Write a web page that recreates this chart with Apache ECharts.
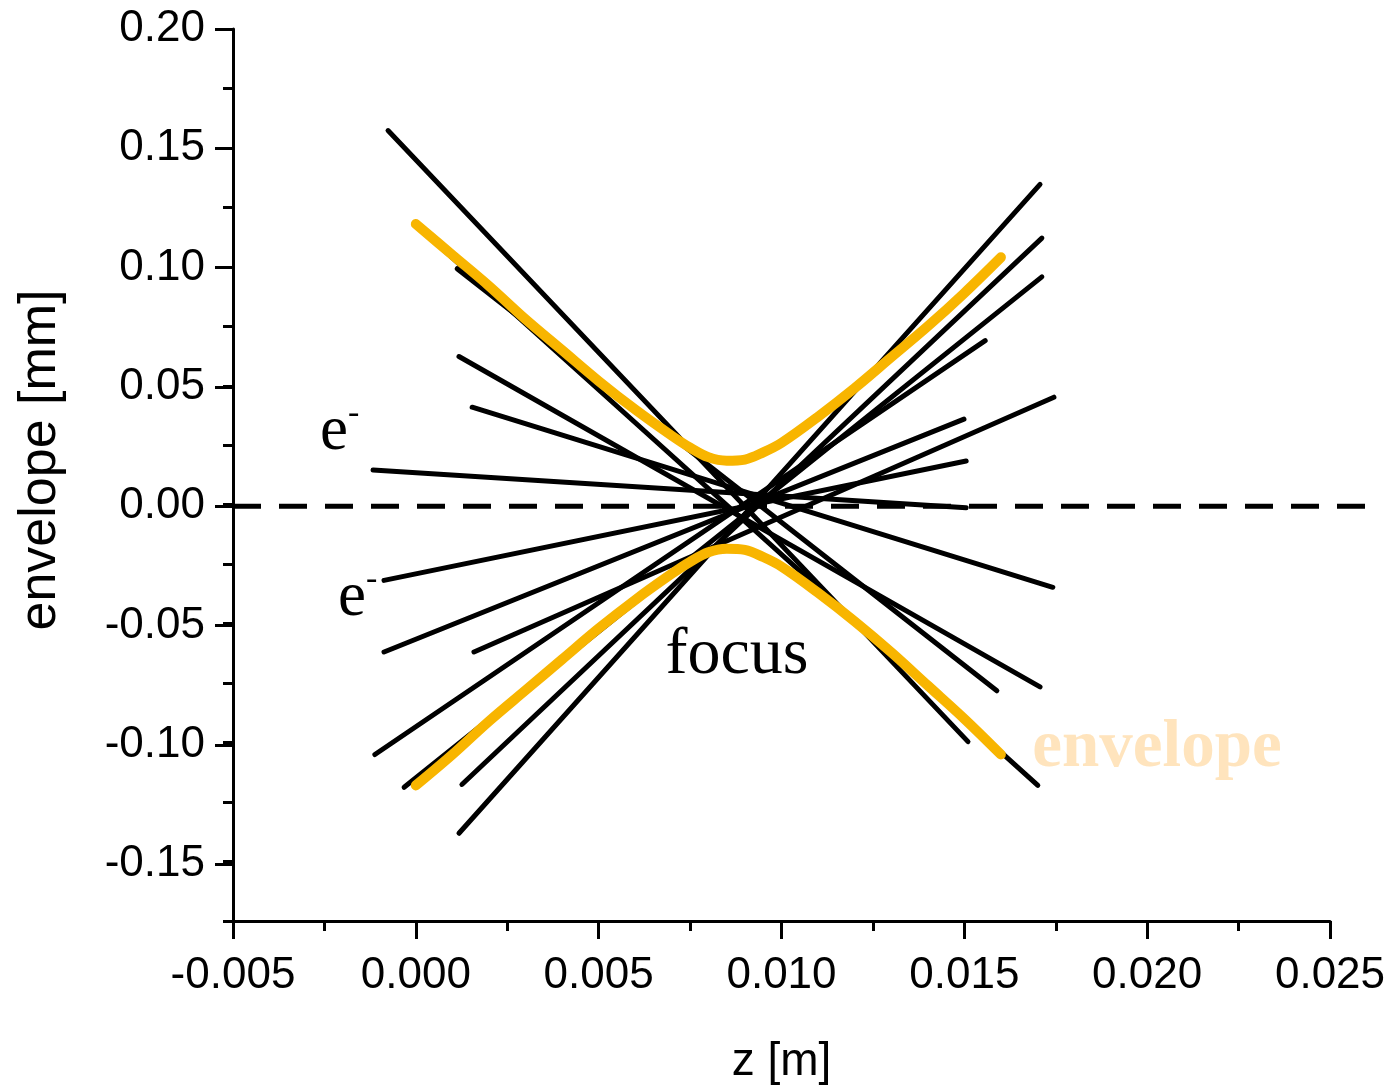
<!DOCTYPE html>
<html>
<head>
<meta charset="utf-8">
<title>Electron envelope near focus</title>
<script src="https://cdn.jsdelivr.net/npm/echarts@6/dist/echarts.min.js"></script>
<style>
  html, body { margin: 0; padding: 0; background: #ffffff; }
  #chart { width: 1398px; height: 1090px; }
</style>
</head>
<body>
<div id="chart"></div>
<script>
// Individual electron trajectories: start point (z0, y0) and end point (z1, y1)
const rayZ0 = [-0.00076, 0.00000, 0.00113, 0.00118, 0.00154, -0.00117,
               -0.00087, -0.00087, 0.00159, -0.00112, -0.00032, 0.00126, 0.00118];
const rayY0 = [0.1573, 0.1176, 0.0992, 0.0623, 0.0410, 0.0146,
               -0.0318, -0.0619, -0.0619, -0.1050, -0.1188, -0.1176, -0.1381];
const rayZ1 = [0.01510, 0.01701, 0.01589, 0.01707, 0.01742, 0.01505,
               0.01505, 0.01499, 0.01745, 0.01557, 0.01712, 0.01712, 0.01707];
const rayY1 = [-0.0996, -0.1180, -0.0782, -0.0766, -0.0347, -0.0013,
               0.0184, 0.0360, 0.0452, 0.0690, 0.0958, 0.1121, 0.1347];

// Beam envelope (upper and lower edge) along z
const envZ = [0, 0.001, 0.002, 0.003, 0.004, 0.005, 0.006, 0.007, 0.0075, 0.008,
              0.0085, 0.009, 0.0095, 0.010, 0.011, 0.012, 0.013, 0.014, 0.015, 0.016];
const envUpper = [0.118, 0.105, 0.092, 0.078, 0.065, 0.052, 0.040, 0.029, 0.024, 0.020,
                  0.0185, 0.019, 0.022, 0.026, 0.037, 0.049, 0.062, 0.075, 0.089, 0.104];
const envLower = [-0.118, -0.105, -0.091, -0.078, -0.065, -0.052, -0.040, -0.029, -0.024, -0.020,
                  -0.0185, -0.019, -0.022, -0.026, -0.037, -0.049, -0.062, -0.076, -0.090, -0.105];

// Beam axis (y = 0), drawn across the full width, past the end of the z axis
const axisLineZ = [-0.005, 0.0263];
const axisLineY = [0, 0];

// Axis ranges and tick labels
const zRange = [-0.005, 0.025];
const yRange = [-0.175, 0.20];
const zTicks = [-0.005, 0.000, 0.005, 0.010, 0.015, 0.020, 0.025];
const yTicks = [-0.15, -0.10, -0.05, 0.00, 0.05, 0.10, 0.15, 0.20];

// Text annotations placed in data coordinates
const notes = [
  { text: '{b|e}{s|-}', z: -0.00262, y: 0.0305, kind: 'e' },
  { text: '{b|e}{s|-}', z: -0.00213, y: -0.0392, kind: 'e' },
  { text: 'focus', z: 0.00878, y: -0.0636, kind: 'focus' },
  { text: 'envelope', z: 0.02027, y: -0.1025, kind: 'env' }
];

const W = 1398, H = 1090;
const gridL = 233, gridT = 29, gridR = W - 1330, gridB = H - 924;
const pxPerY = (H - gridT - gridB) / (yRange[1] - yRange[0]);
const pxPerZ = (W - gridL - gridR) / (zRange[1] - zRange[0]);
// second grid carries the labelled major ticks of the y axis (starting at the first label)
const gridB2 = gridB + (yTicks[0] - yRange[0]) * pxPerY;
// third grid shares the z scale but reaches further right, for the beam axis line
const zWide = axisLineZ[1];
const gridR3 = W - gridL - (zWide - zRange[0]) * pxPerZ;

const SANS = 'Liberation Sans, Arial, sans-serif';
const SERIF = 'Liberation Serif, Times New Roman, serif';
const YELLOW = '#F8B500';

const fmt = (v, d) => (Math.abs(v) < 1e-9 ? 0 : v).toFixed(d);

const series = [];

series.push({
  type: 'line', xAxisIndex: 2, yAxisIndex: 2,
  data: axisLineZ.map((z, i) => [z, axisLineY[i]]),
  symbol: 'none', silent: true, z: 1,
  lineStyle: { color: '#000', width: 5, type: [28, 18] }
});

for (let i = 0; i < rayZ0.length; i++) {
  series.push({
    type: 'line', xAxisIndex: 0, yAxisIndex: 0,
    data: [[rayZ0[i], rayY0[i]], [rayZ1[i], rayY1[i]]],
    symbol: 'none', silent: true, z: 2,
    lineStyle: { color: '#000', width: 5, cap: 'round' }
  });
}

[envUpper, envLower].forEach(edge => {
  series.push({
    type: 'line', xAxisIndex: 0, yAxisIndex: 0,
    data: envZ.map((z, i) => [z, edge[i]]),
    symbol: 'none', smooth: 0.35, silent: true, z: 3,
    lineStyle: { color: YELLOW, width: 10, cap: 'round', join: 'round' }
  });
});

const plain = { opacity: 1, textBorderWidth: 0, textShadowBlur: 0 };
const noteStyle = {
  e: Object.assign({ rich: {
        b: { fontFamily: SERIF, fontSize: 63, color: '#000' },
        s: { fontFamily: SERIF, fontSize: 34, color: '#000', padding: [0, 0, 36, 0] }
      }, align: 'left' }, plain),
  focus: Object.assign({ fontFamily: SERIF, fontSize: 66, color: '#000', align: 'center' }, plain),
  env: Object.assign({ fontFamily: SERIF, fontSize: 67, fontWeight: 'bold', color: '#FFE4BD', align: 'center' }, plain)
};

series.push({
  type: 'scatter', xAxisIndex: 0, yAxisIndex: 0,
  symbolSize: 0, silent: true, z: 4, clip: false,
  itemStyle: { opacity: 1 },
  data: notes.map(n => ({
    value: [n.z, n.y],
    label: Object.assign({ show: true, position: 'inside', verticalAlign: 'middle',
                           formatter: n.text }, noteStyle[n.kind])
  }))
});

const axisLineStyle = { color: '#000', width: 3 };

const option = {
  animation: false,
  backgroundColor: '#ffffff',
  grid: [
    { left: gridL, top: gridT, right: gridR, bottom: gridB },
    { left: gridL, top: gridT, right: gridR, bottom: gridB2 },
    { left: gridL, top: gridT, right: gridR3, bottom: gridB }
  ],
  xAxis: [
    {
      type: 'value', gridIndex: 0,
      min: zRange[0], max: zRange[1], interval: zTicks[1] - zTicks[0],
      name: 'z [m]', nameLocation: 'middle', nameGap: 118,
      nameTextStyle: { fontFamily: SANS, fontSize: 46, color: '#000' },
      axisLine: { show: true, onZero: false, lineStyle: axisLineStyle },
      axisTick: { show: true, inside: false, length: 18, lineStyle: axisLineStyle },
      minorTick: { show: true, splitNumber: 2, length: 10, lineStyle: axisLineStyle },
      axisLabel: { fontFamily: SANS, fontSize: 44, color: '#000', margin: 33,
                   formatter: v => fmt(v, 3) },
      splitLine: { show: false }
    },
    {
      type: 'value', gridIndex: 1, min: zRange[0], max: zRange[1], show: false,
      axisLine: { onZero: false }
    },
    {
      type: 'value', gridIndex: 2, min: zRange[0], max: zWide, show: false,
      axisLine: { onZero: false }
    }
  ],
  yAxis: [
    {
      type: 'value', gridIndex: 0,
      min: yRange[0], max: yRange[1], interval: 0.025,
      name: 'envelope [mm]', nameLocation: 'middle', nameGap: 166, nameRotate: 90,
      nameTextStyle: { fontFamily: SANS, fontSize: 52, color: '#000', padding: [0, 0, 0, 30] },
      axisLine: { show: true, onZero: false, lineStyle: axisLineStyle },
      axisTick: { show: true, inside: false, length: 10, lineStyle: axisLineStyle },
      axisLabel: { show: false },
      splitLine: { show: false }
    },
    {
      type: 'value', gridIndex: 1, position: 'left',
      min: yTicks[0], max: yTicks[yTicks.length - 1], interval: yTicks[1] - yTicks[0],
      axisLine: { show: false, onZero: false },
      axisTick: { show: true, inside: false, length: 18, lineStyle: axisLineStyle },
      axisLabel: { fontFamily: SANS, fontSize: 44, color: '#000', margin: 28,
                   formatter: v => fmt(v, 2) },
      splitLine: { show: false }
    },
    {
      type: 'value', gridIndex: 2, min: yRange[0], max: yRange[1], show: false,
      axisLine: { onZero: false }
    }
  ],
  series: series
};

const chart = echarts.init(document.getElementById('chart'), null, { renderer: 'canvas' });
chart.setOption(option);
</script>
</body>
</html>
